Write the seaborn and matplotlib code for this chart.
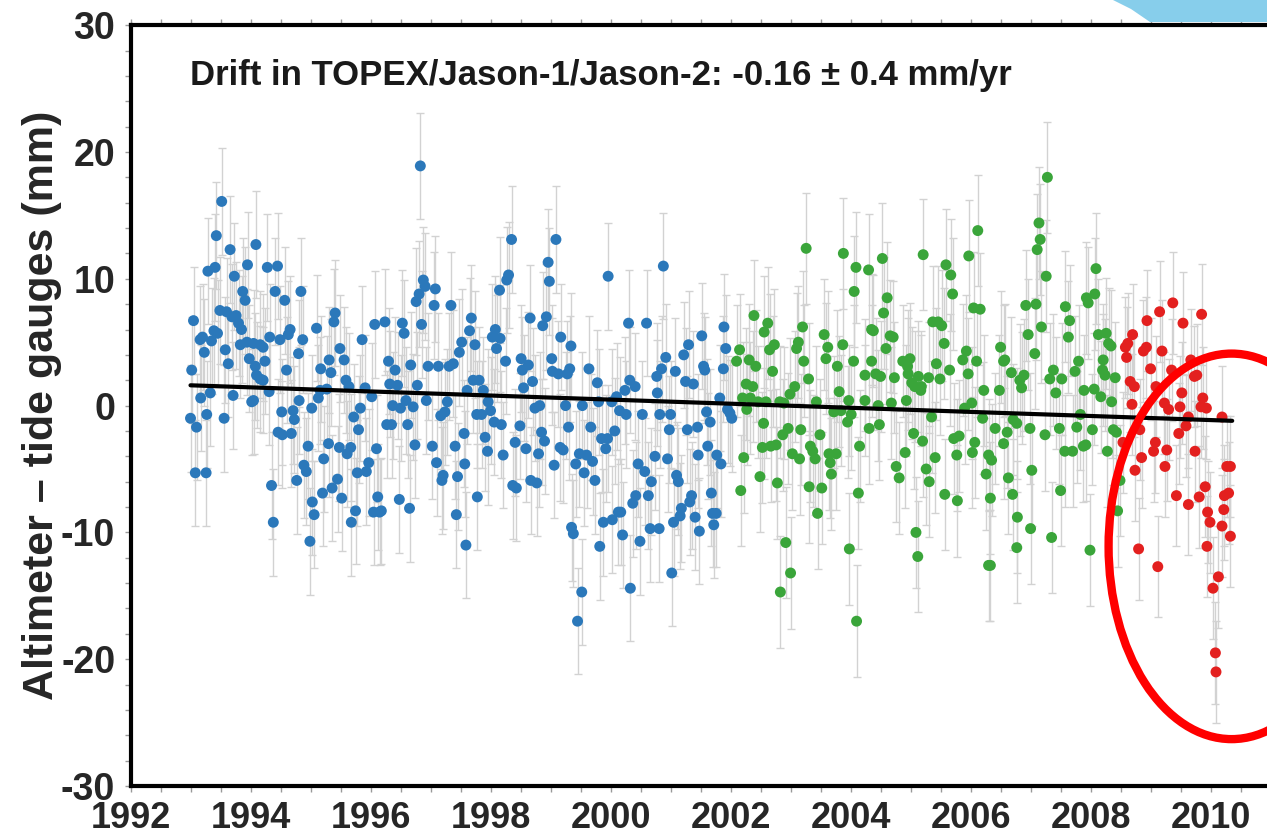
import pandas as pd
import matplotlib
matplotlib.use("Agg")
import matplotlib.pyplot as plt
from matplotlib.patches import Ellipse, Polygon
from matplotlib.ticker import MultipleLocator
import seaborn as sns

# (decimal year, altimeter - tide gauge in mm)
topex = [
    (1993.00, -1.0), (1993.02, 2.8), (1993.05, 6.7), (1993.08, -5.3), (1993.10, -1.7), (1993.16, 5.2),
    (1993.17, 0.6), (1993.20, 5.4), (1993.23, 4.2), (1993.26, -5.3), (1993.27, -0.7), (1993.29, 10.6),
    (1993.33, 1.0), (1993.35, 5.1), (1993.39, 5.9), (1993.41, 10.9), (1993.43, 13.4), (1993.45, 5.7),
    (1993.49, 7.5), (1993.52, 16.1), (1993.56, -1.0), (1993.58, 4.4), (1993.60, 7.4), (1993.63, 3.3),
    (1993.66, 12.3), (1993.69, 7.0), (1993.71, 0.8), (1993.73, 10.2), (1993.76, 7.1), (1993.80, 6.5),
    (1993.83, 4.8), (1993.85, 6.0), (1993.87, 9.0), (1993.91, 8.3), (1993.94, 5.0), (1993.95, 11.1),
    (1993.98, 3.7), (1994.02, 0.3), (1994.05, 4.9), (1994.08, 3.1), (1994.09, 12.7),
    (1994.05, 0.4), (1994.10, 2.4), (1994.16, 2.1), (1994.16, 4.8), (1994.21, 2.0), (1994.21, 4.6),
    (1994.24, 3.5), (1994.28, 10.9), (1994.31, 1.1), (1994.32, 5.4), (1994.35, -6.3), (1994.38, -9.2),
    (1994.41, 9.0), (1994.45, 11.0), (1994.46, -2.1), (1994.49, 5.2), (1994.52, -0.5), (1994.53, -2.3),
    (1994.57, 8.3), (1994.60, 2.8), (1994.63, 5.6), (1994.66, 6.0), (1994.68, -2.2), (1994.71, -0.4),
    (1994.73, -1.1), (1994.77, -5.9), (1994.80, 4.1), (1994.81, 0.4), (1994.84, 9.0), (1994.87, 5.2),
    (1994.89, -4.7), (1994.93, -5.2), (1994.96, -3.2), (1994.99, -10.7), (1995.02, -0.2), (1995.03, -7.6),
    (1995.06, -8.6), (1995.10, 6.1), (1995.13, 0.6), (1995.16, 1.2), (1995.17, 2.9), (1995.20, -6.9),
    (1995.22, -4.2), (1995.27, 1.3), (1995.30, -3.0), (1995.31, 3.6), (1995.34, 2.6), (1995.36, -6.5),
    (1995.39, 6.6), (1995.41, 7.3), (1995.45, -5.8), (1995.48, -3.3), (1995.49, 4.5), (1995.52, -7.3),
    (1995.56, 3.6), (1995.59, 2.0), (1995.61, -3.8), (1995.64, 1.5), (1995.67, -3.3), (1995.68, -9.2),
    (1995.72, -0.9), (1995.75, -8.3), (1995.78, -5.3), (1995.80, -1.9), (1995.83, -0.2), (1995.86, 5.2),
    (1995.91, 1.4), (1995.93, -5.2), (1995.97, -4.5), (1996.02, 0.7), (1996.05, -8.4), (1996.07, 6.4),
    (1996.10, -3.4), (1996.12, -7.2), (1996.15, -8.4),
    (1996.18, -8.3), (1996.24, 6.6), (1996.27, -1.5), (1996.30, 3.5), (1996.32, 1.7), (1996.35, -1.5),
    (1996.37, 0.0), (1996.41, 2.8), (1996.45, 1.6), (1996.48, -7.4), (1996.50, -0.2), (1996.53, 6.5),
    (1996.56, 5.7), (1996.59, 0.4), (1996.62, -1.5), (1996.65, -8.1), (1996.67, 3.2), (1996.71, -0.1),
    (1996.74, -3.1), (1996.76, 8.2), (1996.78, 1.6), (1996.81, 8.8), (1996.83, 18.9), (1996.85, 6.4),
    (1996.88, 9.9), (1996.91, 9.4), (1996.93, 0.4), (1996.96, 3.1), (1997.03, -3.2), (1997.06, 7.9),
    (1997.08, 9.2), (1997.10, -4.5), (1997.13, 3.1), (1997.17, -0.8), (1997.19, -5.9), (1997.21, -5.5),
    (1997.24, -0.5), (1997.28, 0.3), (1997.31, 3.1), (1997.34, 7.9), (1997.38, 3.3), (1997.41, -3.2),
    (1997.43, -8.6), (1997.45, -5.6), (1997.48, 4.2), (1997.52, 5.0), (1997.56, -2.2), (1997.57, -4.6),
    (1997.59, -11.0), (1997.61, 1.2), (1997.65, 5.9), (1997.68, 6.9), (1997.71, 2.0), (1997.74, 4.8),
    (1997.77, -0.7), (1997.78, -7.2), (1997.81, 2.0), (1997.85, -0.7), (1997.88, 1.2), (1997.91, -2.5),
    (1997.95, -3.6), (1997.96, 0.3), (1998.00, -0.4), (1998.03, 5.4), (1998.06, -1.3), (1998.08, 6.0),
    (1998.10, 4.5), (1998.15, 9.1),
    (1998.16, 5.3), (1998.18, -1.5), (1998.21, -3.9), (1998.25, 3.5), (1998.27, 9.9), (1998.30, 10.3),
    (1998.35, 13.1), (1998.37, -6.3), (1998.41, -2.9), (1998.43, -6.5), (1998.49, -1.6), (1998.51, 3.7),
    (1998.53, 2.8), (1998.55, 1.4), (1998.59, -3.4), (1998.63, 3.2), (1998.66, 6.9), (1998.67, -5.9),
    (1998.70, 1.9), (1998.74, -0.2), (1998.77, -6.1), (1998.80, -3.8), (1998.82, 0.0), (1998.85, -2.1),
    (1998.87, 6.3), (1998.90, -2.8), (1998.93, 7.0), (1998.96, 11.3), (1998.98, 9.8), (1999.02, 3.7),
    (1999.03, 2.7), (1999.06, -4.7), (1999.09, 13.1), (1999.13, 2.5), (1999.16, -3.3), (1999.17, 5.4),
    (1999.21, -3.5), (1999.25, 0.0), (1999.28, 2.5), (1999.30, -1.7), (1999.32, 2.9), (1999.34, 4.7),
    (1999.35, -9.6), (1999.38, -10.1), (1999.42, -4.6), (1999.45, -17.0), (1999.48, -3.8), (1999.52, -14.7),
    (1999.53, 0.0), (1999.56, -5.3), (1999.60, -3.9), (1999.64, 2.9), (1999.67, -1.7), (1999.70, -4.4),
    (1999.74, -5.9), (1999.78, 1.8), (1999.80, 0.3), (1999.82, -11.1), (1999.85, -2.6), (1999.88, -9.2),
    (1999.92, -3.4), (1999.95, -2.6), (1999.96, 10.2), (2000.02, 0.3), (2000.03, -9.0), (2000.07, -2.0),
    (2000.10, 0.7), (2000.13, -8.4), (2000.15, -0.4),
    (2000.17, -8.4), (2000.20, -10.2), (2000.24, 1.2), (2000.26, -0.7), (2000.30, 6.5), (2000.32, 2.0),
    (2000.33, -14.4), (2000.37, -7.7), (2000.41, 1.5), (2000.42, -7.1), (2000.46, -4.6), (2000.49, -10.7),
    (2000.53, -0.7), (2000.57, -5.2), (2000.60, 6.5), (2000.63, -7.1), (2000.66, -9.7), (2000.68, -6.0),
    (2000.74, -4.0), (2000.77, 2.3), (2000.78, 1.0), (2000.81, -9.7), (2000.82, -0.7), (2000.85, 2.9),
    (2000.88, 11.0), (2000.92, 3.8), (2000.95, -4.2), (2000.98, -1.9), (2001.00, -0.7), (2001.02, -13.2),
    (2001.05, -9.2), (2001.08, 2.7), (2001.10, -5.5), (2001.13, -6.0), (2001.16, -8.7), (2001.18, -8.1),
    (2001.22, 4.0), (2001.25, 1.9), (2001.28, -1.9), (2001.30, 4.8), (2001.32, -7.6), (2001.35, -7.1),
    (2001.38, 1.7), (2001.41, -8.8), (2001.45, -1.7), (2001.46, -3.9), (2001.48, -9.9), (2001.52, 5.5),
    (2001.55, 3.1), (2001.57, 2.8), (2001.60, -0.5), (2001.62, -3.2), (2001.66, -1.3), (2001.68, -6.9),
    (2001.70, -8.5), (2001.72, -9.4), (2001.76, -8.5), (2001.77, -3.9), (2001.82, 0.6), (2001.84, -4.6),
    (2001.88, 2.9), (2001.89, 6.2), (2001.92, 4.5), (2001.95, -0.3), (2001.99, -0.6), (2002.02, -1.0),
]

jason1 = [
    (2002.10, 3.5), (2002.15, 4.4), (2002.17, -6.7), (2002.20, 0.6), (2002.22, -4.1), (2002.26, 1.7),
    (2002.27, -0.3), (2002.31, 3.6), (2002.33, 0.6), (2002.37, 1.5), (2002.39, 7.1), (2002.42, 3.1),
    (2002.46, 0.3), (2002.49, -5.6), (2002.53, -3.3), (2002.55, -1.4), (2002.56, 5.8), (2002.59, 0.3),
    (2002.62, 6.5), (2002.65, 4.4), (2002.67, -3.2), (2002.70, 2.7), (2002.73, 4.8), (2002.76, -3.1),
    (2002.78, -6.1), (2002.82, 0.3), (2002.83, -14.7), (2002.87, -2.3), (2002.89, 0.2), (2002.92, -10.8),
    (2002.96, -1.8), (2002.99, 0.9), (2003.00, -13.2), (2003.03, -3.8), (2003.07, 1.5), (2003.10, 4.5),
    (2003.13, 5.0), (2003.15, -4.2), (2003.17, -1.9), (2003.20, 6.2), (2003.22, 3.5), (2003.26, 12.4),
    (2003.30, 2.1), (2003.31, -6.4), (2003.33, -3.2), (2003.37, -3.6), (2003.41, -4.2), (2003.43, 0.3),
    (2003.45, -8.5), (2003.49, -2.3), (2003.52, -6.5), (2003.56, 5.6), (2003.59, 3.7), (2003.62, 4.6),
    (2003.64, -3.8), (2003.66, -4.5), (2003.68, -5.4), (2003.72, -0.5), (2003.76, -3.8), (2003.78, 3.1),
    (2003.81, 1.1), (2003.84, -0.4), (2003.87, 4.8), (2003.88, 12.0), (2003.95, -1.3), (2003.97, 0.4),
    (2003.98, -11.3), (2004.01, -0.7), (2004.05, 3.5), (2004.06, 9.0), (2004.09, 10.9), (2004.10, -17.0),
    (2004.13, -6.9), (2004.15, -3.2),
    (2004.24, 2.4), (2004.24, 0.4), (2004.30, 10.7), (2004.31, -1.8), (2004.35, 6.0), (2004.35, 3.5),
    (2004.38, 5.9), (2004.42, 2.5), (2004.46, 0.0), (2004.48, -1.5), (2004.50, 2.3), (2004.53, 11.6),
    (2004.55, 7.3), (2004.59, 4.5), (2004.61, 8.5), (2004.66, 5.5), (2004.68, 0.2), (2004.71, 5.4),
    (2004.73, 2.2), (2004.76, -4.8), (2004.81, -5.7), (2004.87, 3.5), (2004.91, -3.7), (2004.93, 0.4),
    (2004.95, 3.1), (2004.96, 2.5), (2004.99, 3.7), (2005.02, 1.8), (2005.05, -2.2), (2005.07, 1.5),
    (2005.09, -10.0), (2005.12, -11.9), (2005.13, 2.3), (2005.17, 1.2), (2005.18, 1.5), (2005.20, -2.8),
    (2005.21, 11.9), (2005.26, -5.0), (2005.30, 2.2), (2005.31, -6.0), (2005.35, -0.9), (2005.37, 6.6),
    (2005.41, -4.1), (2005.43, 3.3), (2005.46, 6.6), (2005.49, 2.1), (2005.52, 6.3), (2005.56, 4.9),
    (2005.57, -7.0), (2005.59, 11.1), (2005.65, 2.8), (2005.67, 10.3), (2005.70, 8.8), (2005.72, -2.6),
    (2005.77, -3.9), (2005.78, -7.5), (2005.81, -2.4), (2005.87, 3.6), (2005.90, -0.2), (2005.93, 4.3),
    (2005.96, 2.5), (2005.97, 11.8), (2006.02, 0.2), (2006.03, -3.7), (2006.05, 7.7), (2006.07, -2.9),
    (2006.10, 3.5), (2006.12, 13.8),
    (2006.16, 7.6), (2006.20, -1.0), (2006.22, 1.2), (2006.26, -5.4), (2006.30, -3.9), (2006.30, -12.6),
    (2006.33, -12.6), (2006.33, -7.3), (2006.35, -4.3), (2006.41, -1.8), (2006.48, 1.2), (2006.50, 4.6),
    (2006.55, -3.0), (2006.55, 3.5), (2006.57, 3.6), (2006.61, -2.1), (2006.63, -5.7), (2006.68, 2.6),
    (2006.70, -7.0), (2006.71, -1.1), (2006.77, -1.4), (2006.77, -11.2), (2006.78, -8.8), (2006.82, 2.0),
    (2006.85, 1.4), (2006.89, 2.4), (2006.92, 7.9), (2006.96, 5.6), (2006.99, -1.8), (2007.00, -9.7),
    (2007.02, -5.1), (2007.07, 4.1), (2007.09, 8.0), (2007.11, 12.3), (2007.14, 14.4), (2007.16, 13.1),
    (2007.18, 6.2), (2007.24, -2.3), (2007.26, 10.2), (2007.28, 18.0), (2007.32, 2.1), (2007.35, -10.4),
    (2007.38, 2.8), (2007.42, 1.0), (2007.48, -1.8), (2007.50, -6.7), (2007.52, 2.1), (2007.57, -3.6),
    (2007.58, 7.8), (2007.63, 5.4), (2007.65, 6.7), (2007.70, -3.6), (2007.74, 2.7), (2007.77, -1.7),
    (2007.80, 3.5), (2007.83, -0.7), (2007.88, -3.2), (2007.89, 1.2), (2007.92, -3.1), (2007.93, 8.5),
    (2007.96, 8.1), (2007.99, -11.4), (2008.03, -1.9), (2008.06, 1.3), (2008.07, 8.8), (2008.09, 10.8),
    (2008.13, 5.6), (2008.17, 0.7), (2008.20, 2.8), (2008.21, 3.6), (2008.24, 2.4), (2008.26, 5.7),
    (2008.28, -3.6), (2008.30, 4.9), (2008.34, 4.7), (2008.35, 0.3), (2008.38, -1.9), (2008.41, 2.2),
    (2008.43, -2.1), (2008.45, -8.3), (2008.49, -5.9),
]

jason2 = [
    (2008.54, -2.9), (2008.58, 4.6), (2008.60, 3.8), (2008.62, 4.9), (2008.66, 1.9), (2008.69, 0.1),
    (2008.70, 5.6), (2008.73, 1.5), (2008.74, -5.1), (2008.80, -11.3), (2008.82, -1.9), (2008.85, -4.1),
    (2008.88, 4.3), (2008.93, 4.6), (2008.94, 6.7), (2009.00, 2.9), (2009.05, -3.6), (2009.08, -2.9),
    (2009.09, 1.5), (2009.12, -12.7), (2009.15, 7.4), (2009.19, 4.3), (2009.23, 0.2), (2009.24, -4.8),
    (2009.27, -3.5), (2009.30, -0.3), (2009.35, 2.8), (2009.37, 8.1), (2009.43, -7.1), (2009.47, -2.2),
    (2009.49, -0.1), (2009.52, 1.0), (2009.54, 6.5), (2009.59, -1.6), (2009.63, -0.9), (2009.63, -7.8),
    (2009.67, 3.6), (2009.73, 2.3), (2009.74, -3.6), (2009.77, 2.4), (2009.81, -7.2), (2009.84, -0.1),
    (2009.85, 7.2), (2009.87, 0.6), (2009.91, -6.4), (2009.93, -0.2), (2009.94, -11.1), (2009.95, -8.4),
    (2009.99, -9.2), (2010.04, -14.4), (2010.08, -19.5), (2010.09, -21.0), (2010.13, -13.5), (2010.19, -0.9),
    (2010.19, -9.5), (2010.22, -8.2), (2010.23, -7.1), (2010.27, -4.8), (2010.30, -6.9), (2010.33, -4.8),
    (2010.33, -10.3),
]

# typical half length of the grey error bars (mm)
topex_err = 4.2
jason1_err = 4.4
jason2_err = 4.0

trend_years = [1993.0, 2010.36]
trend_mm = [1.6, -1.2]

x_ticks = [1992, 1994, 1996, 1998, 2000, 2002, 2004, 2006, 2008, 2010]
y_ticks = [-30, -20, -10, 0, 10, 20, 30]

drift_text = "Drift in TOPEX/Jason-1/Jason-2: -0.16 \u00b1 0.4 mm/yr"
ylabel_text = "Altimeter \u2013 tide gauges (mm)"

colors = {"TOPEX": "#2b78ba", "Jason-1": "#3aa53a", "Jason-2": "#e3201f"}

frames = []
for name, pts, err in [("TOPEX", topex, topex_err), ("Jason-1", jason1, jason1_err), ("Jason-2", jason2, jason2_err)]:
    d = pd.DataFrame(pts, columns=["year", "mm"])
    d["mission"] = name
    d["err"] = err
    frames.append(d)
df = pd.concat(frames, ignore_index=True)

sns.set_style("white")
plt.rcParams["font.family"] = ["Liberation Sans", "DejaVu Sans"]
plt.rcParams["axes.unicode_minus"] = False

fig = plt.figure(figsize=(12.67, 8.38), dpi=100)
ax = fig.add_axes([0.103, 0.062, 0.897, 0.908])

# grey error bars behind the dots
ax.errorbar(df["year"], df["mm"], yerr=df["err"], fmt="none", ecolor="#d2d2d2",
            elinewidth=1.0, capsize=3, capthick=1.0, zorder=1)

sns.scatterplot(data=df, x="year", y="mm", hue="mission", palette=colors, s=62,
                edgecolor="none", linewidth=0, legend=False, ax=ax, zorder=3)

sns.lineplot(x=trend_years, y=trend_mm, color="black", linewidth=3, ax=ax, zorder=4)

# red circle around the Jason-2 period
ax.add_patch(Ellipse((2010.35, -11.1), width=4.1, height=30.4, fill=False,
                     edgecolor="#ff0000", linewidth=6, zorder=5))

ax.text(1992.99, 26.0, drift_text, fontsize=25, fontweight="bold", va="center", ha="left",
        color="#1a1a1a")

ax.set_xlim(1992, 2010.94)
ax.set_ylim(-30, 30)
ax.set_xticks(x_ticks)
ax.set_yticks(y_ticks)
ax.xaxis.set_minor_locator(MultipleLocator(0.5))
ax.yaxis.set_minor_locator(MultipleLocator(2))
ax.tick_params(which="both", direction="out", color="#9a9a9a", length=4, width=1,
               top=True, bottom=True, left=True, right=False)
ax.tick_params(axis="x", labelsize=26, pad=7)
ax.tick_params(axis="y", labelsize=27, pad=7)
for lbl in ax.get_xticklabels() + ax.get_yticklabels():
    lbl.set_fontweight("bold")

ax.set_xlabel("")
ax.set_ylabel(ylabel_text, fontsize=31, fontweight="bold")
ax.yaxis.set_label_coords(-0.060, 0.5)

for side in ["left", "bottom", "top"]:
    ax.spines[side].set_linewidth(3)
    ax.spines[side].set_color("black")
ax.spines["right"].set_visible(False)

# corner of the light blue logo above the frame
fig.patches.append(Polygon([(1113 / 1267, 1.0), (1131 / 1267, 1 - 9 / 838), (1150 / 1267, 1 - 22 / 838),
                            (1.0, 1 - 22 / 838), (1.0, 1.0)], closed=True, transform=fig.transFigure,
                           facecolor="#87ceeb", edgecolor="none", zorder=0))

fig.savefig("out.png", dpi=100)
